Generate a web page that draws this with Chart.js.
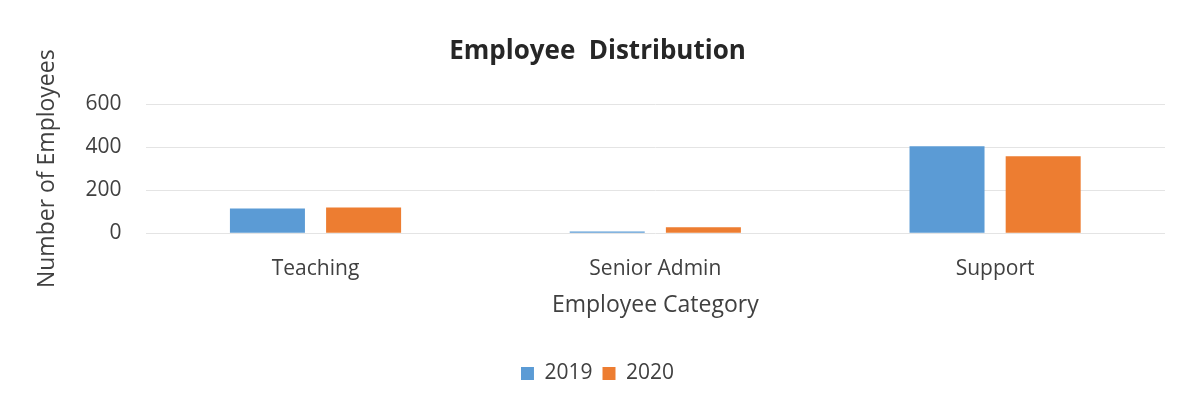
<!DOCTYPE html>
<html>
<head>
<meta charset="utf-8">
<script src="https://cdn.jsdelivr.net/npm/chart.js@4"></script>
<style>
  html, body { margin: 0; padding: 0; background: #fff; }
  #wrap { width: 1180px; height: 409px; }
</style>
</head>
<body>
<div id="wrap"><canvas id="employees"></canvas></div>
<script>
const categories = [ 'Teaching', 'Senior Admin', 'Support' ]
const values2019 = [ 115, 8, 405 ]
const values2020 = [ 120, 28, 358 ]
const yTicks = [ 0, 200, 400, 600 ]

const FONT = "'Open Sans', 'Noto Sans', sans-serif"

const data = {
  labels: categories,
  datasets: [ {
    label: '2019',
    data: values2019,
    backgroundColor: '#5B9BD5'
  }, {
    label: '2020',
    data: values2020,
    backgroundColor: '#ED7D31'
  } ]
}

const config = {
  type: 'bar',
  data: data,
  options: {
    responsive: true,
    maintainAspectRatio: false,
    animation: false,
    categoryPercentage: 0.566,
    barPercentage: 0.78,
    layout: { padding: { top: 20, left: 30, right: 15, bottom: 15 } },
    plugins: {
      title: {
        display: true,
        text: 'Employee  Distribution',
        color: '#262626',
        font: { family: FONT, size: 26, weight: 'bold' },
        padding: { top: 16, bottom: 37 }
      },
      legend: {
        position: 'bottom',
        labels: {
          color: '#404040',
          font: { family: FONT, size: 21 },
          boxWidth: 13,
          boxHeight: 13,
          padding: 10
        }
      },
      tooltip: { enabled: false }
    },
    scales: {
      x: {
        grid: { display: false, drawTicks: false },
        border: { display: false },
        ticks: { color: '#404040', font: { family: FONT, size: 21 }, padding: 23 },
        title: {
          display: true,
          text: 'Employee Category',
          color: '#404040',
          font: { family: FONT, size: 23 },
          padding: { top: -13, bottom: 34 }
        }
      },
      y: {
        min: yTicks[ 0 ],
        max: yTicks[ yTicks.length - 1 ],
        afterBuildTicks: axis => { axis.ticks = yTicks.map( v => ( { value: v } ) ) },
        grid: { color: '#e4e4e4', lineWidth: 1, drawTicks: false },
        border: { display: false },
        ticks: { color: '#404040', font: { family: FONT, size: 21 }, padding: 24 },
        title: {
          display: true,
          text: 'Number of Employees',
          color: '#404040',
          font: { family: FONT, size: 23 },
          padding: { top: 4, bottom: 0 }
        }
      }
    }
  }
}

const chart = new Chart( document.getElementById( 'employees' ), config )
</script>
</body>
</html>
